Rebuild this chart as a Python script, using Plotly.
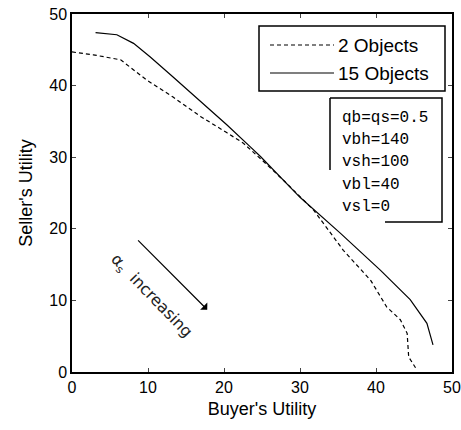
import plotly.graph_objects as go

# Data
x_two = [0, 2.8, 6.4, 9.8, 13.3, 16.9, 20.4, 22.5, 25, 28, 31.8, 35.7, 39.3, 41.4, 43.2, 44.1, 44.3, 45.2]
y_two = [44.7, 44.3, 43.6, 40.8, 38.4, 35.7, 33.4, 32, 29.6, 26.6, 22.6, 17, 12.8, 9.1, 7.3, 5.4, 2.1, 0.6]

x_fifteen = [3.1, 5.9, 8.1, 10.3, 13.3, 16.9, 20.4, 23.5, 24.8, 30, 35.3, 40.6, 44.5, 46.7, 47.5]
y_fifteen = [47.4, 47.1, 45.9, 44.0, 41.2, 37.8, 34.5, 31.4, 30.1, 24.4, 19.4, 14.2, 10.1, 6.8, 3.8]

series_names = ["2 Objects", "15 Objects"]
param_lines = ["qb=qs=0.5", "vbh=140", "vsh=100", "vbl=40", "vsl=0"]
tick_vals = [0, 10, 20, 30, 40, 50]

W, H = 461, 430
L, R, T, B = 72, 9, 14, 58
PW, PH = W - L - R, H - T - B


def px(xp):
    return (xp - L) / PW


def py(yp):
    return (H - B - yp) / PH


fig = go.Figure()
fig.add_trace(go.Scatter(x=x_two, y=y_two, mode="lines", name=series_names[0],
                         line=dict(color="black", width=1.2, dash="4px,3px"), showlegend=False))
fig.add_trace(go.Scatter(x=x_fifteen, y=y_fifteen, mode="lines", name=series_names[1],
                         line=dict(color="black", width=1.2), showlegend=False))

sans = "Liberation Sans, Arial, sans-serif"
axis_font = dict(family=sans, size=16, color="black")
title_font = dict(family=sans, size=18, color="black")
fig.update_xaxes(range=[0, 50], tickvals=tick_vals, ticks="inside", ticklen=4, mirror="ticks",
                 showline=True, linecolor="black", linewidth=1.5, showgrid=False, zeroline=False,
                 automargin=False,
                 tickfont=axis_font, title=dict(text="Buyer's Utility", font=title_font, standoff=7))
fig.update_yaxes(range=[0, 50], tickvals=tick_vals, ticks="inside", ticklen=4, mirror="ticks",
                 showline=True, linecolor="black", linewidth=1.5, showgrid=False, zeroline=False,
                 automargin=False,
                 tickfont=axis_font, title=dict(text="Seller's Utility", font=title_font, standoff=12))

shapes = []
annotations = []
# Legend box
shapes.append(dict(type="rect", xref="paper", yref="paper", x0=px(259), x1=px(445), y0=py(91), y1=py(26),
                   line=dict(color="black", width=1.5), fillcolor="white", layer="above"))
shapes.append(dict(type="line", xref="paper", yref="paper", x0=px(270), x1=px(334), y0=py(45), y1=py(45),
                   line=dict(color="black", width=1.2, dash="4px,3px")))
shapes.append(dict(type="line", xref="paper", yref="paper", x0=px(270), x1=px(334), y0=py(73), y1=py(73),
                   line=dict(color="black", width=1.2)))
legend_font = dict(family=sans, size=19, color="black")
for name, ypx in zip(series_names, [45, 73]):
    annotations.append(dict(text=name, xref="paper", yref="paper", x=px(336), y=py(ypx),
                            xanchor="left", yanchor="middle", showarrow=False, font=legend_font))

# Parameter box (open at lower-left like the original)
path = "M {a},{b} L {c},{b} L {c},{d} L {e},{d} M {a},{b} L {a},{f}".format(
    a=px(330), b=py(98), c=px(442), d=py(222), e=px(385), f=py(170))
shapes.append(dict(type="path", xref="paper", yref="paper", path=path,
                   line=dict(color="black", width=1.5)))
param_font = dict(family="Liberation Mono, DejaVu Sans Mono, monospace", size=16, color="black")
for i, t in enumerate(param_lines):
    annotations.append(dict(text=t, xref="paper", yref="paper", x=px(340), y=py(118 + 22.2 * i),
                            xanchor="left", yanchor="middle", showarrow=False, font=param_font))

# Arrow and rotated label
annotations.append(dict(x=17.8, y=8.7, ax=8.5, ay=18.6, xref="x", yref="y", axref="x", ayref="y",
                        text="", showarrow=True, arrowhead=1, arrowsize=1.4, arrowwidth=1.2, arrowcolor="black"))
annotations.append(dict(x=10.5, y=10.6, xref="x", yref="y", text="α<sub>s</sub>  increasing",
                        textangle=46, showarrow=False,
                        font=dict(family="DejaVu Sans, sans-serif", size=16, color="#222")))

fig.update_layout(width=W, height=H, margin=dict(l=L, r=R, t=T, b=B),
                  plot_bgcolor="white", paper_bgcolor="white",
                  shapes=shapes, annotations=annotations, showlegend=False)

fig.write_html("out.html", config={"displayModeBar": False},
               post_script="document.body.style.margin='0';document.body.style.padding='0';")
